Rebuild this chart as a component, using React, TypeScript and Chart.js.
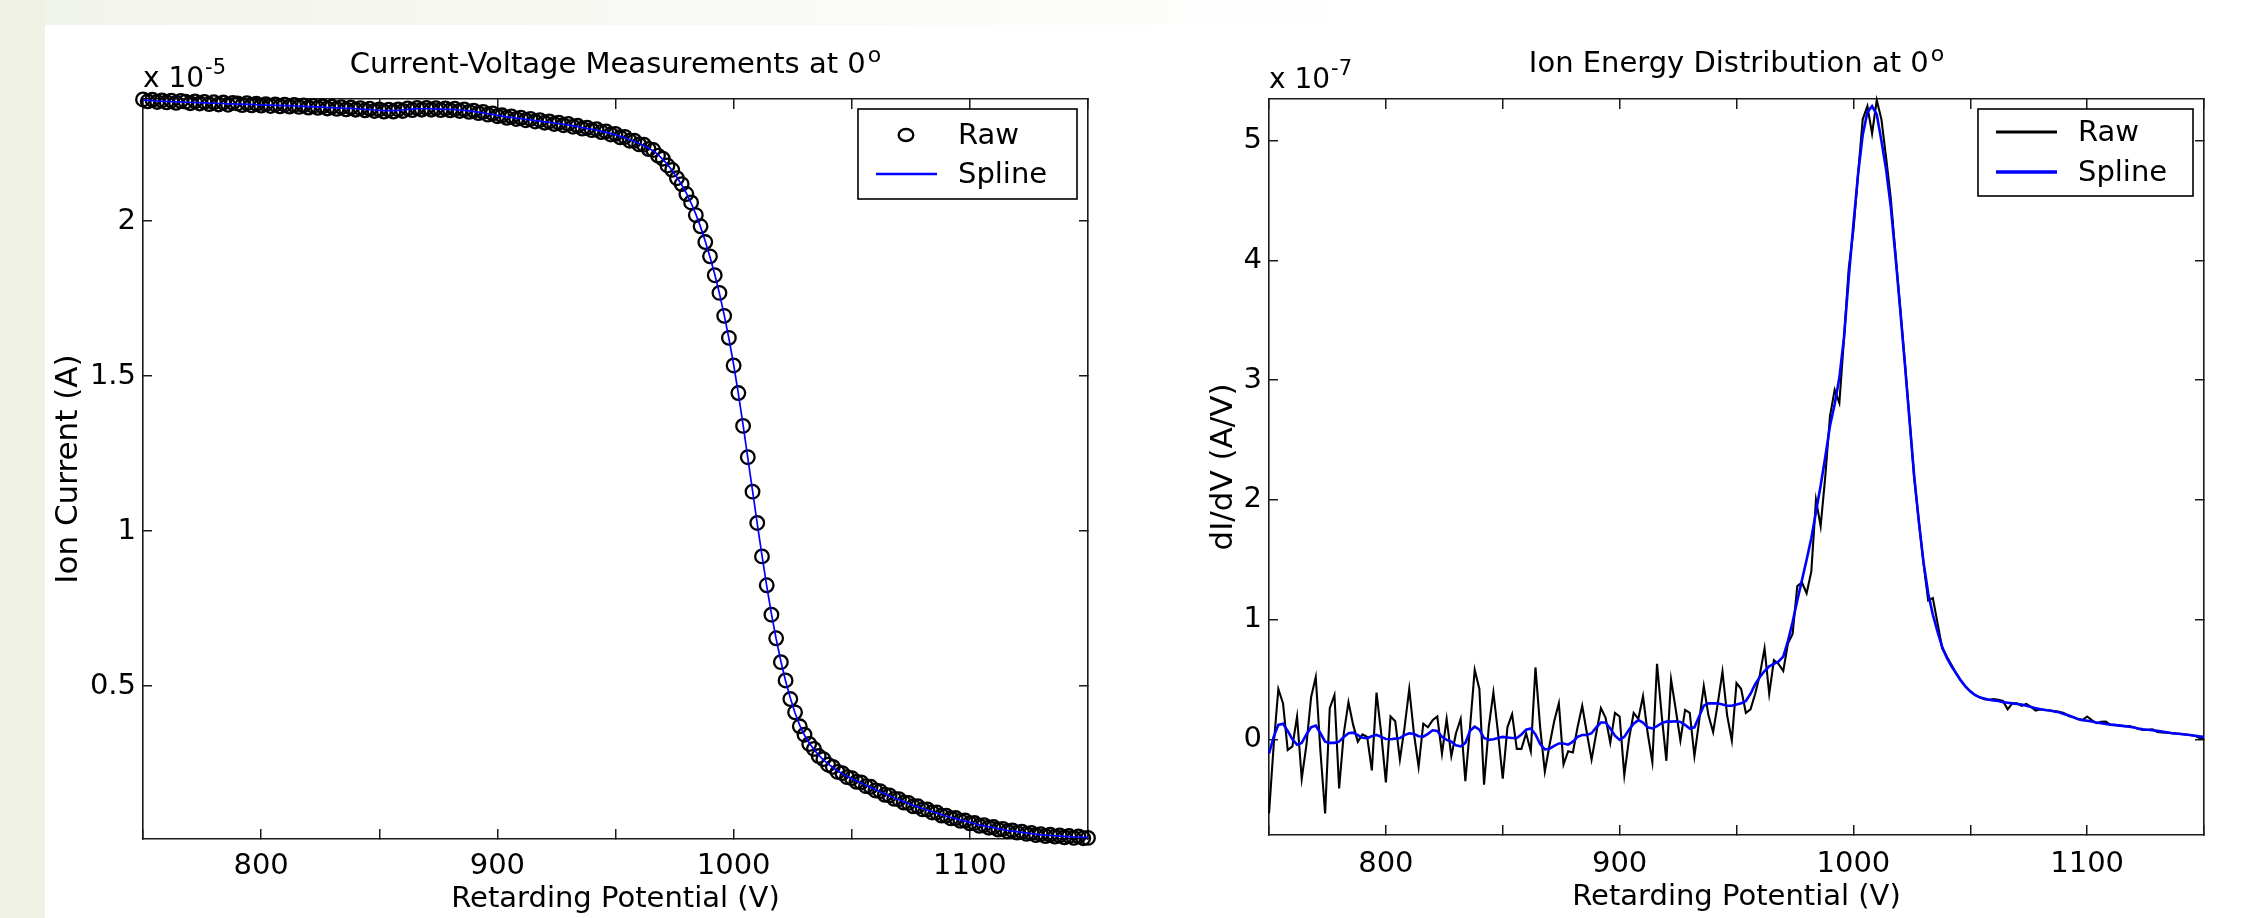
import React, { useEffect, useRef } from 'react';
import { Chart, registerables } from 'chart.js';

Chart.register(...registerables);

const FONT = "'DejaVu Sans', 'Liberation Sans', Arial, sans-serif";
const TEXT = '#000000';
const AXIS = '#1a1a1a';

// Retarding potential sample points (V)
const VOLTAGE = [
  750, 752, 754, 756, 758, 760, 762, 764, 766, 768,
  770, 772, 774, 776, 778, 780, 782, 784, 786, 788,
  790, 792, 794, 796, 798, 800, 802, 804, 806, 808,
  810, 812, 814, 816, 818, 820, 822, 824, 826, 828,
  830, 832, 834, 836, 838, 840, 842, 844, 846, 848,
  850, 852, 854, 856, 858, 860, 862, 864, 866, 868,
  870, 872, 874, 876, 878, 880, 882, 884, 886, 888,
  890, 892, 894, 896, 898, 900, 902, 904, 906, 908,
  910, 912, 914, 916, 918, 920, 922, 924, 926, 928,
  930, 932, 934, 936, 938, 940, 942, 944, 946, 948,
  950, 952, 954, 956, 958, 960, 962, 964, 966, 968,
  970, 972, 974, 976, 978, 980, 982, 984, 986, 988,
  990, 992, 994, 996, 998, 1000, 1002, 1004, 1006, 1008,
  1010, 1012, 1014, 1016, 1018, 1020, 1022, 1024, 1026, 1028,
  1030, 1032, 1034, 1036, 1038, 1040, 1042, 1044, 1046, 1048,
  1050, 1052, 1054, 1056, 1058, 1060, 1062, 1064, 1066, 1068,
  1070, 1072, 1074, 1076, 1078, 1080, 1082, 1084, 1086, 1088,
  1090, 1092, 1094, 1096, 1098, 1100, 1102, 1104, 1106, 1108,
  1110, 1112, 1114, 1116, 1118, 1120, 1122, 1124, 1126, 1128,
  1130, 1132, 1134, 1136, 1138, 1140, 1142, 1144, 1146, 1148,
  1150,
];

// Ion current, raw (x 1e-5 A)
const RAW_CURRENT = [
  2.392, 2.386, 2.391, 2.384, 2.389, 2.383, 2.388, 2.381, 2.387, 2.385,
  2.380, 2.386, 2.379, 2.384, 2.377, 2.383, 2.376, 2.382, 2.375, 2.381,
  2.379, 2.374, 2.380, 2.373, 2.378, 2.372, 2.377, 2.371, 2.376, 2.370,
  2.375, 2.369, 2.374, 2.368, 2.373, 2.366, 2.371, 2.365, 2.370, 2.363,
  2.369, 2.362, 2.367, 2.360, 2.366, 2.359, 2.364, 2.357, 2.362, 2.355,
  2.360, 2.353, 2.359, 2.353, 2.360, 2.355, 2.363, 2.358, 2.365, 2.359,
  2.365, 2.359, 2.364, 2.358, 2.363, 2.357, 2.362, 2.355, 2.360, 2.352,
  2.356, 2.348, 2.352, 2.343, 2.347, 2.338, 2.341, 2.333, 2.337, 2.329,
  2.333, 2.325, 2.329, 2.321, 2.325, 2.317, 2.321, 2.313, 2.317, 2.309,
  2.313, 2.304, 2.307, 2.298, 2.301, 2.293, 2.296, 2.287, 2.289, 2.279,
  2.281, 2.270, 2.271, 2.259, 2.259, 2.247, 2.246, 2.232, 2.229, 2.211,
  2.201, 2.179, 2.165, 2.138, 2.119, 2.087, 2.060, 2.019, 1.983, 1.932,
  1.886, 1.825, 1.768, 1.694, 1.623, 1.534, 1.445, 1.339, 1.238, 1.127,
  1.026, 0.918, 0.825, 0.730, 0.654, 0.577, 0.518, 0.458, 0.415, 0.370,
  0.343, 0.313, 0.297, 0.274, 0.264, 0.246, 0.239, 0.223, 0.219, 0.206,
  0.203, 0.191, 0.189, 0.177, 0.175, 0.163, 0.161, 0.149, 0.147, 0.136,
  0.135, 0.124, 0.123, 0.112, 0.112, 0.102, 0.102, 0.092, 0.092, 0.082,
  0.082, 0.073, 0.074, 0.065, 0.066, 0.057, 0.058, 0.049, 0.051, 0.043,
  0.045, 0.037, 0.039, 0.031, 0.034, 0.027, 0.030, 0.023, 0.026, 0.019,
  0.022, 0.016, 0.020, 0.014, 0.018, 0.012, 0.016, 0.010, 0.015, 0.009,
  0.010,
];

// Ion current, spline fit (x 1e-5 A)
const SPLINE_CURRENT = [
  2.390, 2.389, 2.388, 2.387, 2.386, 2.386, 2.385, 2.384, 2.384, 2.383,
  2.383, 2.382, 2.382, 2.381, 2.380, 2.380, 2.379, 2.379, 2.378, 2.378,
  2.377, 2.377, 2.376, 2.376, 2.375, 2.375, 2.374, 2.374, 2.373, 2.373,
  2.372, 2.372, 2.371, 2.371, 2.370, 2.369, 2.368, 2.368, 2.367, 2.366,
  2.366, 2.365, 2.364, 2.363, 2.363, 2.362, 2.361, 2.360, 2.359, 2.358,
  2.357, 2.356, 2.356, 2.356, 2.357, 2.358, 2.360, 2.361, 2.362, 2.362,
  2.362, 2.362, 2.361, 2.361, 2.360, 2.360, 2.359, 2.358, 2.357, 2.355,
  2.353, 2.351, 2.349, 2.346, 2.344, 2.341, 2.338, 2.336, 2.334, 2.332,
  2.330, 2.328, 2.326, 2.324, 2.322, 2.320, 2.318, 2.316, 2.314, 2.312,
  2.310, 2.307, 2.304, 2.301, 2.298, 2.296, 2.293, 2.290, 2.286, 2.282,
  2.278, 2.273, 2.268, 2.262, 2.256, 2.250, 2.243, 2.235, 2.226, 2.214,
  2.199, 2.182, 2.163, 2.141, 2.117, 2.090, 2.058, 2.022, 1.981, 1.935,
  1.884, 1.828, 1.766, 1.697, 1.621, 1.537, 1.443, 1.342, 1.236, 1.130,
  1.024, 0.921, 0.823, 0.733, 0.652, 0.580, 0.516, 0.461, 0.413, 0.373,
  0.341, 0.316, 0.295, 0.277, 0.262, 0.249, 0.237, 0.226, 0.217, 0.209,
  0.201, 0.194, 0.187, 0.180, 0.173, 0.166, 0.159, 0.152, 0.145, 0.139,
  0.133, 0.127, 0.121, 0.115, 0.110, 0.105, 0.100, 0.095, 0.090, 0.085,
  0.080, 0.076, 0.072, 0.068, 0.064, 0.060, 0.056, 0.052, 0.049, 0.046,
  0.043, 0.040, 0.037, 0.034, 0.032, 0.030, 0.028, 0.026, 0.024, 0.022,
  0.020, 0.019, 0.018, 0.017, 0.016, 0.015, 0.014, 0.013, 0.013, 0.012,
  0.012,
];

// dI/dV, raw (x 1e-7 A/V)
const RAW_DIDV = [
  -0.62, -0.05, 0.42, 0.30, -0.09, -0.06, 0.19, -0.33, -0.05, 0.35,
  0.52, -0.10, -0.62, 0.26, 0.37, -0.41, 0.05, 0.31, 0.12, -0.02,
  0.04, 0.02, -0.26, 0.39, 0.05, -0.36, 0.19, 0.15, -0.17, 0.10,
  0.42, 0.05, -0.23, 0.13, 0.10, 0.16, 0.19, -0.12, 0.17, -0.14,
  0.05, 0.17, -0.35, 0.10, 0.58, 0.42, -0.38, 0.10, 0.39, 0.05,
  -0.33, 0.10, 0.21, -0.08, -0.08, 0.05, -0.10, 0.60, 0.10, -0.27,
  -0.05, 0.15, 0.30, -0.21, -0.10, -0.11, 0.10, 0.28, 0.05, -0.17,
  0.05, 0.26, 0.18, -0.03, 0.22, 0.19, -0.30, 0.00, 0.22, 0.17,
  0.36, 0.05, -0.19, 0.63, 0.20, -0.18, 0.50, 0.25, -0.01, 0.245,
  0.22, -0.14, 0.15, 0.445, 0.20, 0.06, 0.30, 0.565, 0.20, -0.01,
  0.47, 0.42, 0.22, 0.25, 0.38, 0.54, 0.76, 0.38, 0.66, 0.63,
  0.57, 0.80, 0.88, 1.28, 1.31, 1.22, 1.40, 2.00, 1.78, 2.20,
  2.70, 2.92, 2.81, 3.35, 3.93, 4.25, 4.72, 5.18, 5.29, 5.06,
  5.34, 5.18, 4.86, 4.52, 4.06, 3.61, 3.16, 2.68, 2.19, 1.82,
  1.47, 1.16, 1.18, 0.97, 0.76, 0.69, 0.62, 0.55, 0.49, 0.44,
  0.40, 0.37, 0.35, 0.335, 0.33, 0.335, 0.33, 0.32, 0.25, 0.30,
  0.30, 0.28, 0.295, 0.27, 0.24, 0.25, 0.245, 0.24, 0.235, 0.23,
  0.22, 0.195, 0.185, 0.17, 0.16, 0.19, 0.16, 0.134, 0.145, 0.147,
  0.12, 0.12, 0.115, 0.11, 0.11, 0.10, 0.085, 0.078, 0.08, 0.083,
  0.06, 0.056, 0.055, 0.05, 0.047, 0.045, 0.04, 0.035, 0.03, 0.01,
  0.003,
];

// dI/dV, spline derivative (x 1e-7 A/V)
const SPLINE_DIDV = [
  -0.12, 0.02, 0.12, 0.13, 0.07, 0.00, -0.045, -0.03, 0.04, 0.10,
  0.115, 0.05, -0.02, -0.03, -0.03, -0.02, 0.02, 0.05, 0.055, 0.035,
  0.012, 0.01, 0.025, 0.036, 0.02, 0.002, 0.0, 0.005, 0.01, 0.035,
  0.05, 0.045, 0.025, 0.022, 0.045, 0.075, 0.07, 0.02, -0.005, -0.02,
  -0.05, -0.06, -0.03, 0.07, 0.105, 0.08, 0.01, -0.005, 0.0, 0.01,
  0.02, 0.015, 0.01, 0.01, 0.04, 0.08, 0.09, 0.04, -0.04, -0.085,
  -0.08, -0.055, -0.035, -0.035, -0.045, -0.02, 0.02, 0.036, 0.036, 0.05,
  0.10, 0.14, 0.14, 0.09, 0.03, -0.005, 0.02, 0.08, 0.13, 0.16,
  0.14, 0.10, 0.09, 0.11, 0.135, 0.147, 0.147, 0.15, 0.145, 0.12,
  0.09, 0.10, 0.19, 0.28, 0.30, 0.30, 0.30, 0.29, 0.28, 0.28,
  0.29, 0.30, 0.32, 0.38, 0.46, 0.52, 0.57, 0.61, 0.63, 0.65,
  0.69, 0.82, 0.98, 1.16, 1.33, 1.50, 1.68, 1.90, 2.12, 2.36,
  2.62, 2.80, 3.02, 3.36, 3.85, 4.30, 4.72, 5.05, 5.24, 5.29,
  5.22, 5.00, 4.76, 4.45, 4.04, 3.60, 3.14, 2.67, 2.20, 1.82,
  1.48, 1.22, 1.04, 0.90, 0.77, 0.68, 0.61, 0.55, 0.49, 0.44,
  0.40, 0.37, 0.35, 0.34, 0.33, 0.325, 0.32, 0.31, 0.305, 0.30,
  0.295, 0.29, 0.28, 0.27, 0.26, 0.25, 0.245, 0.24, 0.232, 0.225,
  0.21, 0.20, 0.185, 0.17, 0.16, 0.155, 0.148, 0.14, 0.135, 0.128,
  0.122, 0.118, 0.114, 0.11, 0.104, 0.098, 0.09, 0.084, 0.08, 0.075,
  0.07, 0.064, 0.058, 0.052, 0.048, 0.044, 0.04, 0.036, 0.03, 0.024,
  0.02,
];

const X_MIN = 750;
const X_MAX = 1150;
const X_STEP = 50;
const X_TICK_LABELS = [800, 900, 1000, 1100];

const LEFT_Y = { min: 0.0065, max: 2.3935, step: 0.5 };
const RIGHT_Y = { min: -0.8, max: 5.35, step: 1 };

const toPoints = (ys: number[]) => VOLTAGE.map((x, i) => ({ x, y: ys[i] }));

type DecorCfg = {
  title: string;
  titleSup: string;
  titleBaseline: number;
  expBase: string;
  expSup: string;
  expBaseline: number;
  legend: { w: number; h: number; row1: number; row2: number };
};

function makeDecor(cfg: DecorCfg) {
  return {
    id: 'decor',
    afterDraw(chart: any) {
      const { ctx, chartArea } = chart;
      ctx.save();
      ctx.fillStyle = TEXT;
      ctx.textAlign = 'left';
      ctx.textBaseline = 'alphabetic';
      // title with superscript
      ctx.font = `29px ${FONT}`;
      const mainW = ctx.measureText(cfg.title).width;
      ctx.font = `22px ${FONT}`;
      const supW = ctx.measureText(cfg.titleSup).width;
      const cx = (chartArea.left + chartArea.right) / 2;
      const x0 = cx - (mainW + supW + 2) / 2;
      ctx.font = `29px ${FONT}`;
      ctx.fillText(cfg.title, x0, cfg.titleBaseline);
      ctx.font = `22px ${FONT}`;
      ctx.fillText(cfg.titleSup, x0 + mainW + 2, cfg.titleBaseline - 11);
      // exponent label
      ctx.font = `28px ${FONT}`;
      ctx.fillText(cfg.expBase, chartArea.left, cfg.expBaseline);
      const bw = ctx.measureText(cfg.expBase).width;
      ctx.font = `21px ${FONT}`;
      ctx.fillText(cfg.expSup, chartArea.left + bw + 1, cfg.expBaseline - 13);
      // legend
      const L = cfg.legend;
      const bx = chartArea.right - 11 - L.w;
      const by = chartArea.top + 10;
      ctx.fillStyle = '#ffffff';
      ctx.fillRect(bx, by, L.w, L.h);
      ctx.strokeStyle = '#000000';
      ctx.lineWidth = 1.6;
      ctx.strokeRect(bx, by, L.w, L.h);
      const rows = [L.row1, L.row2];
      chart.data.datasets.forEach((ds: any, i: number) => {
        const y = by + rows[i];
        if (ds.showLine === false) {
          ctx.beginPath();
          ctx.ellipse(bx + 48, y, ds.pointRadius + 0.5, ds.pointRadius - 0.8, 0, 0, Math.PI * 2);
          ctx.strokeStyle = ds.pointBorderColor;
          ctx.lineWidth = ds.pointBorderWidth;
          ctx.stroke();
        } else {
          ctx.beginPath();
          ctx.moveTo(bx + 18, y);
          ctx.lineTo(bx + 79, y);
          ctx.strokeStyle = ds.borderColor;
          ctx.lineWidth = ds.borderWidth + 0.8;
          ctx.stroke();
        }
        ctx.fillStyle = TEXT;
        ctx.font = `29px ${FONT}`;
        ctx.textBaseline = 'middle';
        ctx.fillText(ds.label, bx + 100, y + 1);
      });
      ctx.restore();
    },
  };
}

function scalesFor(opts: {
  yMin: number; yMax: number; yStep: number; yTitle: string; yTitlePad: number;
  yWidth: number; xHeight: number; xTickPad: number; xTitlePad: number;
}) {
  const font = { family: FONT, size: 29 };
  const titleFont = { family: FONT, size: 31 };
  const grid = (len: number) => ({
    drawOnChartArea: false, drawTicks: true, tickLength: len, color: AXIS, lineWidth: 1.5,
  });
  const border = { display: true, color: AXIS, width: 1.6 };
  return {
    x: {
      type: 'linear', position: 'bottom', min: X_MIN, max: X_MAX,
      ticks: {
        stepSize: X_STEP, autoSkip: false, maxRotation: 0, padding: opts.xTickPad, color: TEXT, font,
        callback: (v: any) => (X_TICK_LABELS.includes(Number(v)) ? String(v) : ''),
      },
      grid: grid(-10), border,
      title: { display: true, text: 'Retarding Potential (V)', color: TEXT, font, padding: { top: 0, bottom: opts.xTitlePad } },
      afterFit: (s: any) => { s.height = opts.xHeight; },
    },
    x2: {
      type: 'linear', position: 'top', min: X_MIN, max: X_MAX,
      ticks: { stepSize: X_STEP, autoSkip: false, display: false },
      grid: grid(-10), border,
      afterFit: (s: any) => { s.height = 0; },
    },
    y: {
      type: 'linear', position: 'left', min: opts.yMin, max: opts.yMax,
      ticks: {
        stepSize: opts.yStep, includeBounds: false, padding: 16, color: TEXT, font,
        callback: (v: any) => String(Number(Number(v).toFixed(3))),
      },
      grid: grid(-9), border,
      title: { display: true, text: opts.yTitle, color: TEXT, font: titleFont, padding: { top: opts.yTitlePad, bottom: 0 } },
      afterFit: (s: any) => { s.width = opts.yWidth; },
    },
    y2: {
      type: 'linear', position: 'right', min: opts.yMin, max: opts.yMax,
      ticks: { stepSize: opts.yStep, includeBounds: false, display: false },
      grid: grid(-9), border,
      afterFit: (s: any) => { s.width = 0; },
    },
  };
}

export default function App() {
  const leftRef = useRef<HTMLCanvasElement | null>(null);
  const rightRef = useRef<HTMLCanvasElement | null>(null);

  useEffect(() => {
    document.body.style.margin = '0';
    const left = new Chart(leftRef.current as HTMLCanvasElement, {
      type: 'line',
      data: {
        datasets: [
          {
            label: 'Raw', data: toPoints(RAW_CURRENT), showLine: false, order: 1, clip: false,
            pointStyle: 'circle', pointRadius: 6.8, pointBorderWidth: 2.3,
            pointBorderColor: '#000000', pointBackgroundColor: 'rgba(0,0,0,0)', borderColor: '#000000',
          },
          {
            label: 'Spline', data: toPoints(SPLINE_CURRENT), order: 0, clip: false,
            borderColor: '#0000ff', borderWidth: 1.7, pointRadius: 0, tension: 0,
          },
        ],
      } as any,
      options: {
        responsive: false, animation: false, devicePixelRatio: 1, events: [],
        layout: { padding: { left: 0, right: 32, top: 99, bottom: 0 } },
        plugins: { legend: { display: false }, tooltip: { enabled: false }, title: { display: false } },
        scales: scalesFor({
          yMin: LEFT_Y.min, yMax: LEFT_Y.max, yStep: LEFT_Y.step, yTitle: 'Ion Current (A)', yTitlePad: 5,
          yWidth: 98, xHeight: 79, xTickPad: 20, xTitlePad: 1,
        }) as any,
      },
      plugins: [makeDecor({
        title: 'Current-Voltage Measurements at 0', titleSup: 'o', titleBaseline: 73,
        expBase: 'x 10', expSup: '-5', expBaseline: 87,
        legend: { w: 219, h: 90, row1: 26, row2: 65 },
      })],
    });

    const right = new Chart(rightRef.current as HTMLCanvasElement, {
      type: 'line',
      data: {
        datasets: [
          {
            label: 'Raw', data: toPoints(RAW_DIDV), order: 1, clip: false,
            borderColor: '#000000', borderWidth: 2.1, pointRadius: 0, tension: 0,
          },
          {
            label: 'Spline', data: toPoints(SPLINE_DIDV), order: 0, clip: false,
            borderColor: '#0000ff', borderWidth: 2.6, pointRadius: 0, tension: 0,
          },
        ],
      } as any,
      options: {
        responsive: false, animation: false, devicePixelRatio: 1, events: [],
        layout: { padding: { left: 0, right: 37, top: 99, bottom: 0 } },
        plugins: { legend: { display: false }, tooltip: { enabled: false }, title: { display: false } },
        scales: scalesFor({
          yMin: RIGHT_Y.min, yMax: RIGHT_Y.max, yStep: RIGHT_Y.step, yTitle: 'dI/dV (A/V)', yTitlePad: 85,
          yWidth: 149, xHeight: 83, xTickPad: 22, xTitlePad: 3,
        }) as any,
      },
      plugins: [makeDecor({
        title: 'Ion Energy Distribution at 0', titleSup: 'o', titleBaseline: 72,
        expBase: 'x 10', expSup: '-7', expBaseline: 88,
        legend: { w: 215, h: 87, row1: 23, row2: 63 },
      })],
    });

    return () => {
      left.destroy();
      right.destroy();
    };
  }, []);

  return (
    <div style={{ position: 'fixed', left: 0, top: 0, width: 2241, height: 918, background: '#ffffff', overflow: 'hidden' }}>
      <div style={{ position: 'absolute', left: 0, top: 0, width: 45, height: 918, background: '#eef1e4' }} />
      <div style={{ position: 'absolute', left: 45, top: 0, width: 2196, height: 25, background: 'linear-gradient(to right, #f1f4ea, #ffffff 60%)' }} />
      <canvas ref={leftRef} width={1075} height={918} style={{ position: 'absolute', left: 45, top: 0 }} />
      <canvas ref={rightRef} width={1121} height={918} style={{ position: 'absolute', left: 1120, top: 0 }} />
    </div>
  );
}
